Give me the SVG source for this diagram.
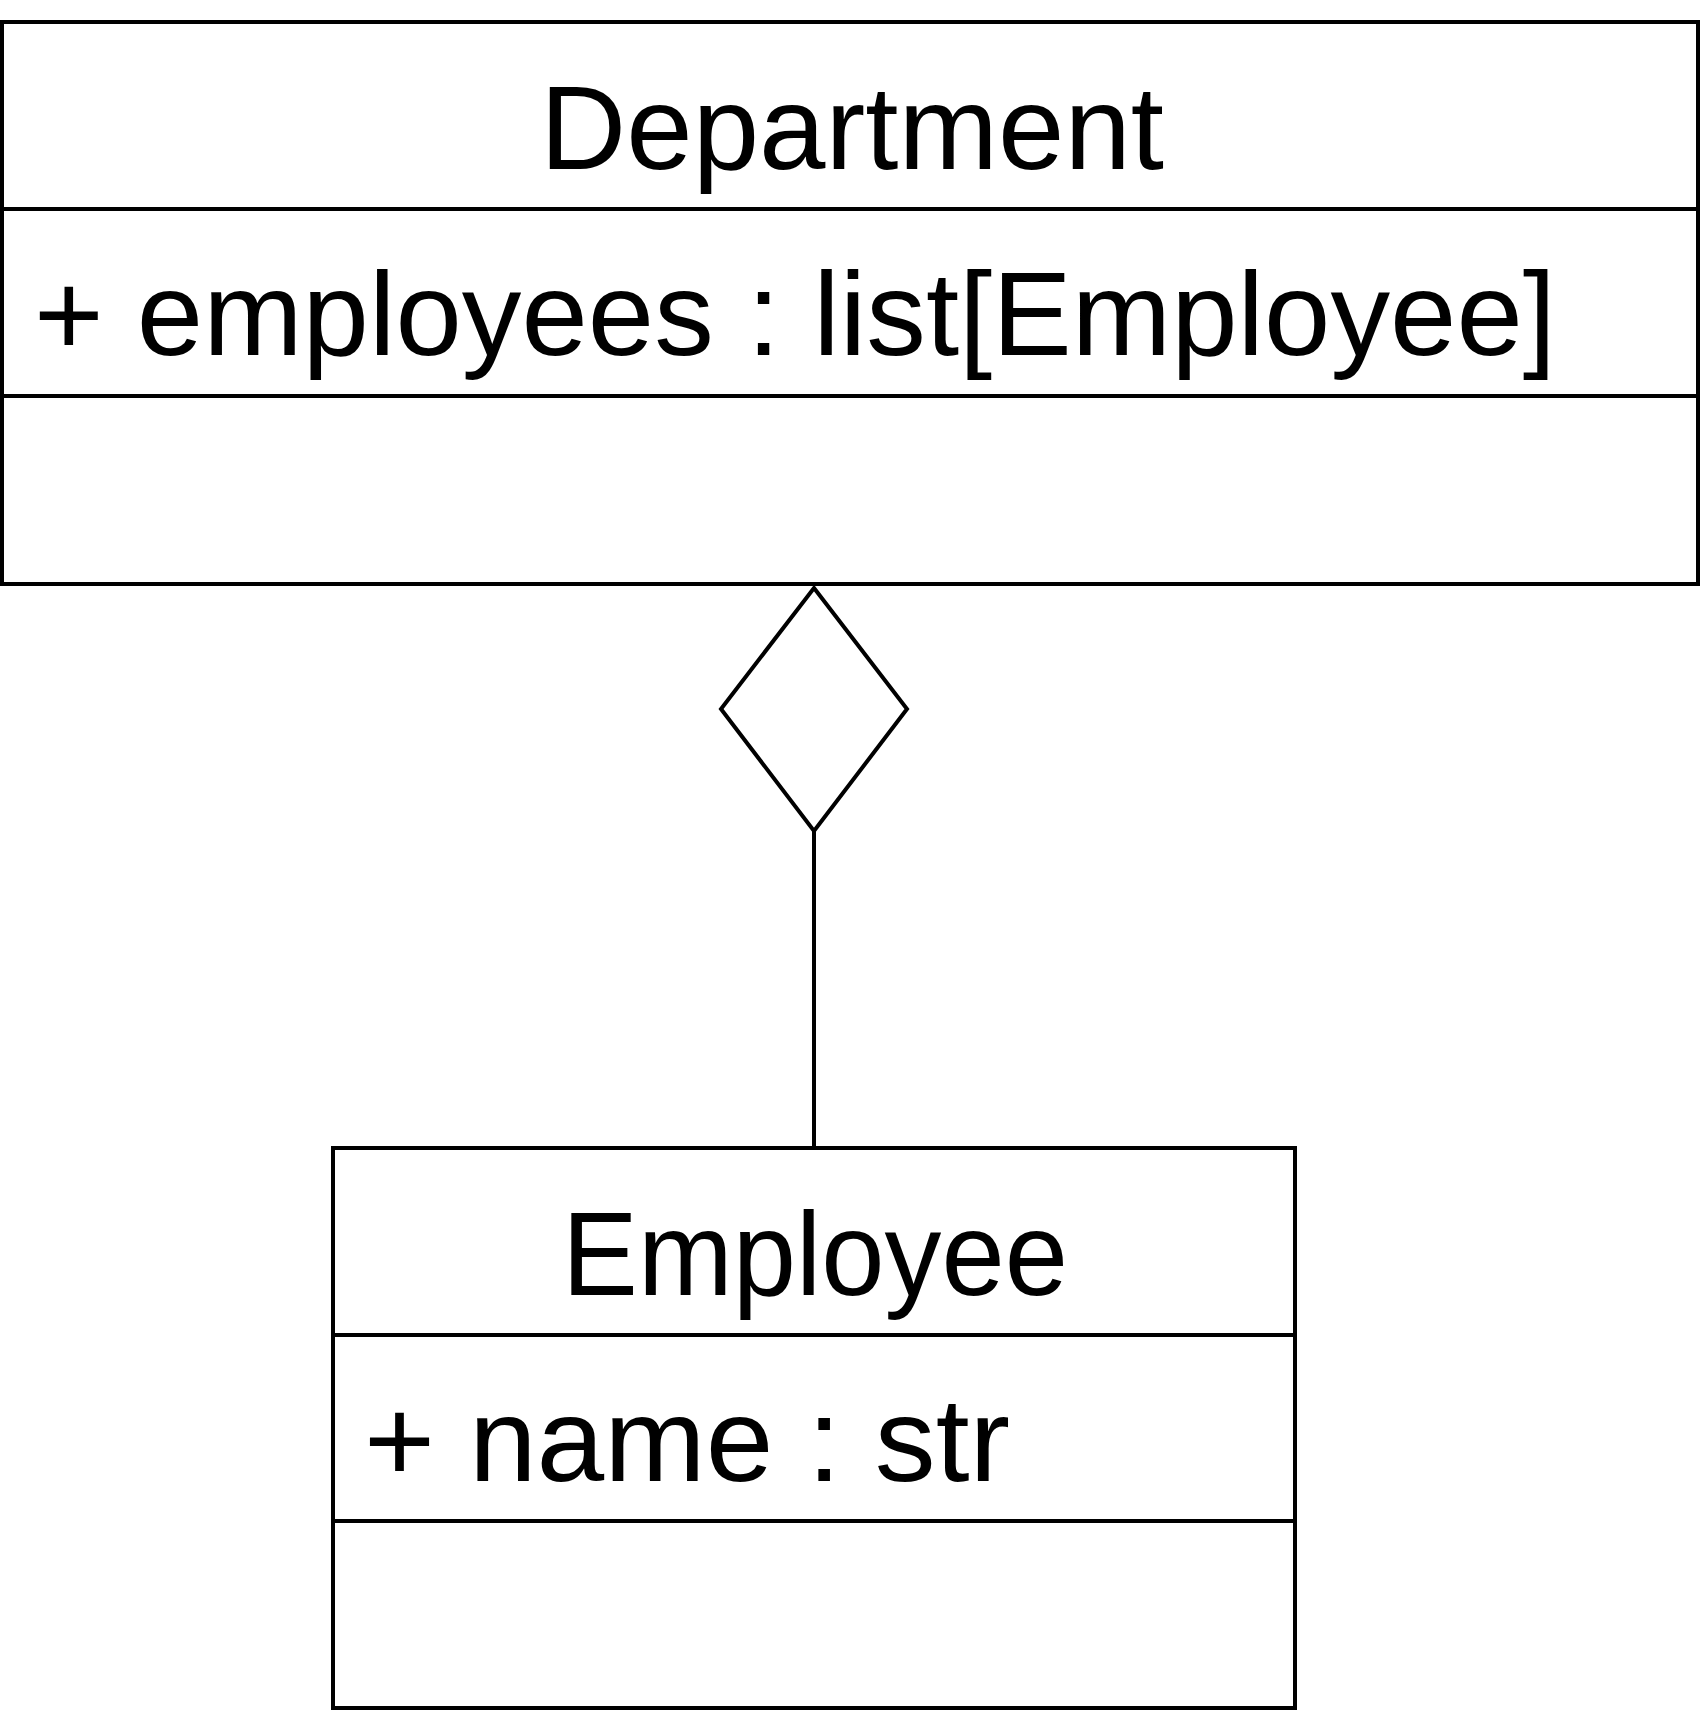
<svg xmlns="http://www.w3.org/2000/svg" width="1703" height="1714" viewBox="0 0 1703 1714">
<style>
.box{fill:#fff;stroke:#000;stroke-width:4}
.div{stroke:#000;stroke-width:4}
.t{font-family:"Liberation Sans",Arial,sans-serif;font-size:118px;fill:#000}
.c{text-anchor:middle}
.edge{fill:none;stroke:#000;stroke-width:4}
</style>
<rect width="1703" height="1714" fill="#fff"/>
<g id="Department">
<rect class="box" x="2" y="22" width="1696" height="562"/>
<line class="div" x1="2" y1="209" x2="1698" y2="209"/>
<line class="div" x1="2" y1="396" x2="1698" y2="396"/>
<text class="t c" x="852" y="169" textLength="624" lengthAdjust="spacingAndGlyphs">Department</text>
<text class="t" x="34" y="355" textLength="1522" lengthAdjust="spacingAndGlyphs">+ employees : list[Employee]</text>
</g>
<g id="Employee">
<rect class="box" x="333" y="1148" width="962" height="560"/>
<line class="div" x1="333" y1="1335" x2="1295" y2="1335"/>
<line class="div" x1="333" y1="1521" x2="1295" y2="1521"/>
<text class="t c" x="815" y="1295" textLength="506" lengthAdjust="spacingAndGlyphs">Employee</text>
<text class="t" x="364" y="1481" textLength="646" lengthAdjust="spacingAndGlyphs">+ name : str</text>
</g>
<g id="connectors">
<polygon class="edge" points="814,588 907,709 814,831 721,709" fill="#fff"/>
<line class="edge" x1="814" y1="831" x2="814" y2="1148"/>
</g>
</svg>
